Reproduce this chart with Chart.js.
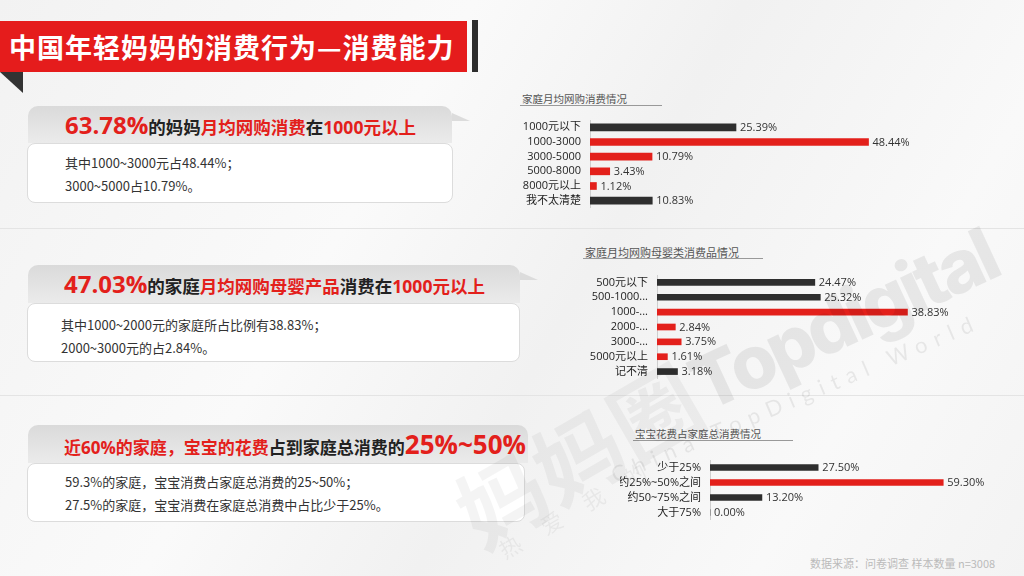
<!DOCTYPE html>
<html>
<head>
<meta charset="utf-8">
<script src="https://cdn.jsdelivr.net/npm/chart.js@4/dist/chart.umd.min.js"></script>
<style>
  body { margin: 0; }
  #slide {
    position: relative; width: 1024px; height: 576px; overflow: hidden;
    background: linear-gradient(120deg, #f2f2f2 0%, #fafafa 35%, #f1f1f1 55%, #f9f9f9 80%, #f3f3f3 100%);
    font-family: "Open Sans", "Noto Sans CJK SC", sans-serif;
  }
  .abs { position: absolute; }
  #banner {
    left: 0; top: 21px; width: 467px; height: 51px; background: #e51c1c;
    color: #fff; font-weight: bold; font-size: 27px; letter-spacing: 1px; line-height: 51px; padding-left: 9px; box-sizing: border-box;
    font-family: "Noto Sans CJK SC", sans-serif; white-space: nowrap;
  }
  #bannerBar { left: 472px; top: 20px; width: 6px; height: 52px; background: #2d2d2d; }
  #fold { left: 0; top: 72px; width: 23px; height: 21px; background: #333; clip-path: polygon(0 0, 100% 0, 100% 100%); }
  .sep { left: 0; width: 1024px; height: 1px; background: #e4e4e4; }
  .tab {
    border-radius: 10px 10px 0 0; background: linear-gradient(to bottom, #dadada, #ebebeb);
    font-weight: bold; font-size: 17.5px; color: #222; white-space: nowrap; box-sizing: border-box;
    font-family: "Open Sans", "Noto Sans CJK SC", sans-serif;
  }
  .tip { width: 0; height: 0; border-left: 18px solid #dcdcdc; border-top: 8px solid transparent; }
  .red { color: #e3201b; }
  .big { font-size: 24px; }
  .box {
    background: #fff; border: 1px solid #dcdcdc; border-radius: 8px; box-sizing: border-box;
    font-size: 13px; color: #333; line-height: 23px; font-family: "Noto Sans CJK SC", sans-serif;
  }
  .ctitle {
    font-size: 10.5px; color: #555; border-bottom: 1px solid #999; line-height: 12px; height: 13px;
    font-family: "Noto Sans CJK SC", sans-serif; padding-left: 2px; box-sizing: border-box; white-space: nowrap;
  }
  canvas { position: absolute; }
  .wm { position: absolute; white-space: nowrap; pointer-events: none; }
  #foot { left: 810px; top: 555px; font-size: 11px; color: #bbb; font-family: "Noto Sans CJK SC", sans-serif; }
</style>
</head>
<body>
<div id="slide">
  <div id="banner" class="abs">中国年轻妈妈的消费行为—消费能力</div>
  <div id="bannerBar" class="abs"></div>
  <div id="fold" class="abs"></div>

  <div class="abs sep" style="top:228px"></div>
  <div class="abs sep" style="top:395px"></div>

  <!-- section 1 -->
  <div class="abs tab" style="left:28px;top:106px;width:424px;height:37px;line-height:37px;padding-left:37px">
    <span class="red big">63.78%</span>的妈妈<span class="red">月均网购消费</span>在<span class="red">1000元以上</span>
  </div>
  <div class="abs tip" style="left:452px;top:113px"></div>
  <div class="abs box" style="left:27px;top:143px;width:426px;height:60px;padding:7px 0 0 37px">
    其中1000~3000元占48.44%；<br>3000~5000占10.79%。
  </div>

  <!-- section 2 -->
  <div class="abs tab" style="left:28px;top:265px;width:492px;height:38px;line-height:38px;padding-left:36px">
    <span class="red big">47.03%</span>的家庭<span class="red">月均网购母婴产品</span>消费在<span class="red">1000元以上</span>
  </div>
  <div class="abs tip" style="left:520px;top:272px"></div>
  <div class="abs box" style="left:27px;top:303px;width:493px;height:59px;padding:9px 0 0 33px">
    其中1000~2000元的家庭所占比例有38.83%；<br>2000~3000元的占2.84%。
  </div>

  <!-- section 3 -->
  <div class="abs tab" style="left:28px;top:425px;width:500px;height:38px;line-height:38px;padding-left:36px;font-size:17px">
    <span class="red">近60%的家庭，宝宝的花费</span>占到家庭总消费的<span class="red" style="font-size:26px">25%~50%</span>
  </div>
  <div class="abs box" style="left:27px;top:463px;width:498px;height:59px;padding:6px 0 0 37px">
    59.3%的家庭，宝宝消费占家庭总消费的25~50%；<br>27.5%的家庭，宝宝消费在家庭总消费中占比少于25%。
  </div>

  <!-- chart titles -->
  <div class="abs ctitle" style="left:520px;top:93px;width:142px">家庭月均网购消费情况</div>
  <div class="abs ctitle" style="left:583px;top:246px;width:180px;font-size:11px">家庭月均网购母婴类消费品情况</div>
  <div class="abs ctitle" style="left:633px;top:428px;width:160px">宝宝花费占家庭总消费情况</div>

  <canvas id="spendChart" width="425" height="88" style="left:510px;top:120px"></canvas>
  <canvas id="babyChart" width="395" height="104" style="left:580px;top:275px"></canvas>
  <canvas id="shareChart" width="376" height="60" style="left:620px;top:460px"></canvas>

  <!-- watermark -->
  <div class="wm" style="left:700px;top:342px;transform-origin:0 58px;transform:rotate(-25deg);font:800 74px Inter, sans-serif;letter-spacing:-4px;color:rgba(0,0,0,0.07)">Topdigital</div>
  <div class="wm" style="left:612px;top:462px;transform-origin:0 50%;transform:rotate(-23deg);font:22px Lato, sans-serif;letter-spacing:8px;color:rgba(0,0,0,0.07)">China TopDigital World</div>
  <div class="wm" style="left:462px;top:455px;transform-origin:0 50%;transform:rotate(-30deg);font:bold 88px 'Noto Sans CJK SC';color:rgba(0,0,0,0.045)">妈妈圈</div>
  <div class="wm" style="left:500px;top:535px;transform-origin:0 50%;transform:rotate(-30deg);font:22px 'Noto Sans CJK SC';letter-spacing:26px;color:rgba(0,0,0,0.05)">热爱我的</div>

  <div id="foot" class="abs">数据来源：问卷调查 样本数量 n=3008</div>
</div>

<script>
var spendLabels = ['1000元以下', '1000-3000', '3000-5000', '5000-8000', '8000元以上', '我不太清楚'];
var spendValues = [25.39, 48.44, 10.79, 3.43, 1.12, 10.83];

var babyLabels = ['500元以下', '500-1000...', '1000-...', '2000-...', '3000-...', '5000元以上', '记不清'];
var babyValues = [24.47, 25.32, 38.83, 2.84, 3.75, 1.61, 3.18];

var shareLabels = ['少于25%', '约25%~50%之间', '约50~75%之间', '大于75%'];
var shareValues = [27.50, 59.30, 13.20, 0.00];

var DARK = '#2e2e2e';
var RED = '#e3201b';
var spendColors = [DARK, RED, RED, RED, RED, DARK];
var babyColors = [DARK, DARK, RED, RED, RED, RED, DARK];
var shareColors = [DARK, RED, DARK, DARK];

var valueLabels = {
  id: 'valueLabels',
  afterDatasetsDraw: function (chart) {
    var ctx = chart.ctx;
    var meta = chart.getDatasetMeta(0);
    var values = chart.data.datasets[0].data;
    ctx.save();
    ctx.font = '11px "Open Sans", "Noto Sans CJK SC", sans-serif';
    ctx.fillStyle = '#333';
    ctx.textBaseline = 'middle';
    meta.data.forEach(function (bar, i) {
      ctx.fillText(values[i].toFixed(2) + '%', bar.x + 4, bar.y + 0.5);
    });
    ctx.restore();
  }
};

function makeChart(id, labels, values, colors, max, axisWidth, padRight, thickness) {
  return new Chart(id, {
    type: 'bar',
    data: {
      labels: labels,
      datasets: [{
        data: values,
        backgroundColor: colors,
        barThickness: thickness
      }]
    },
    options: {
      indexAxis: 'y',
      responsive: false,
      animation: false,
      layout: { padding: { left: 0, right: padRight, top: 0, bottom: 0 } },
      plugins: { legend: { display: false }, tooltip: { enabled: false } },
      scales: {
        x: { display: false, min: 0, max: max },
        y: {
          grid: { display: false, drawTicks: false },
          border: { display: true, color: '#cfcfcf' },
          ticks: {
            autoSkip: false,
            color: '#1e1e1e',
            padding: 9,
            font: { size: 11, family: '"Open Sans", "Noto Sans CJK SC", sans-serif' }
          },
          afterFit: function (scale) {
            // fixed label column, and no extra room above/below the bars
            scale.width = axisWidth;
            scale.paddingTop = 0;
            scale.paddingBottom = 0;
          }
        }
      }
    },
    plugins: [valueLabels]
  });
}

makeChart('spendChart', spendLabels, spendValues, spendColors, 60, 80, 0, 7);
makeChart('babyChart', babyLabels, babyValues, babyColors, 40, 77, 60, 6);
makeChart('shareChart', shareLabels, shareValues, shareColors, 60, 90, 50, 6);
</script>
</body>
</html>
